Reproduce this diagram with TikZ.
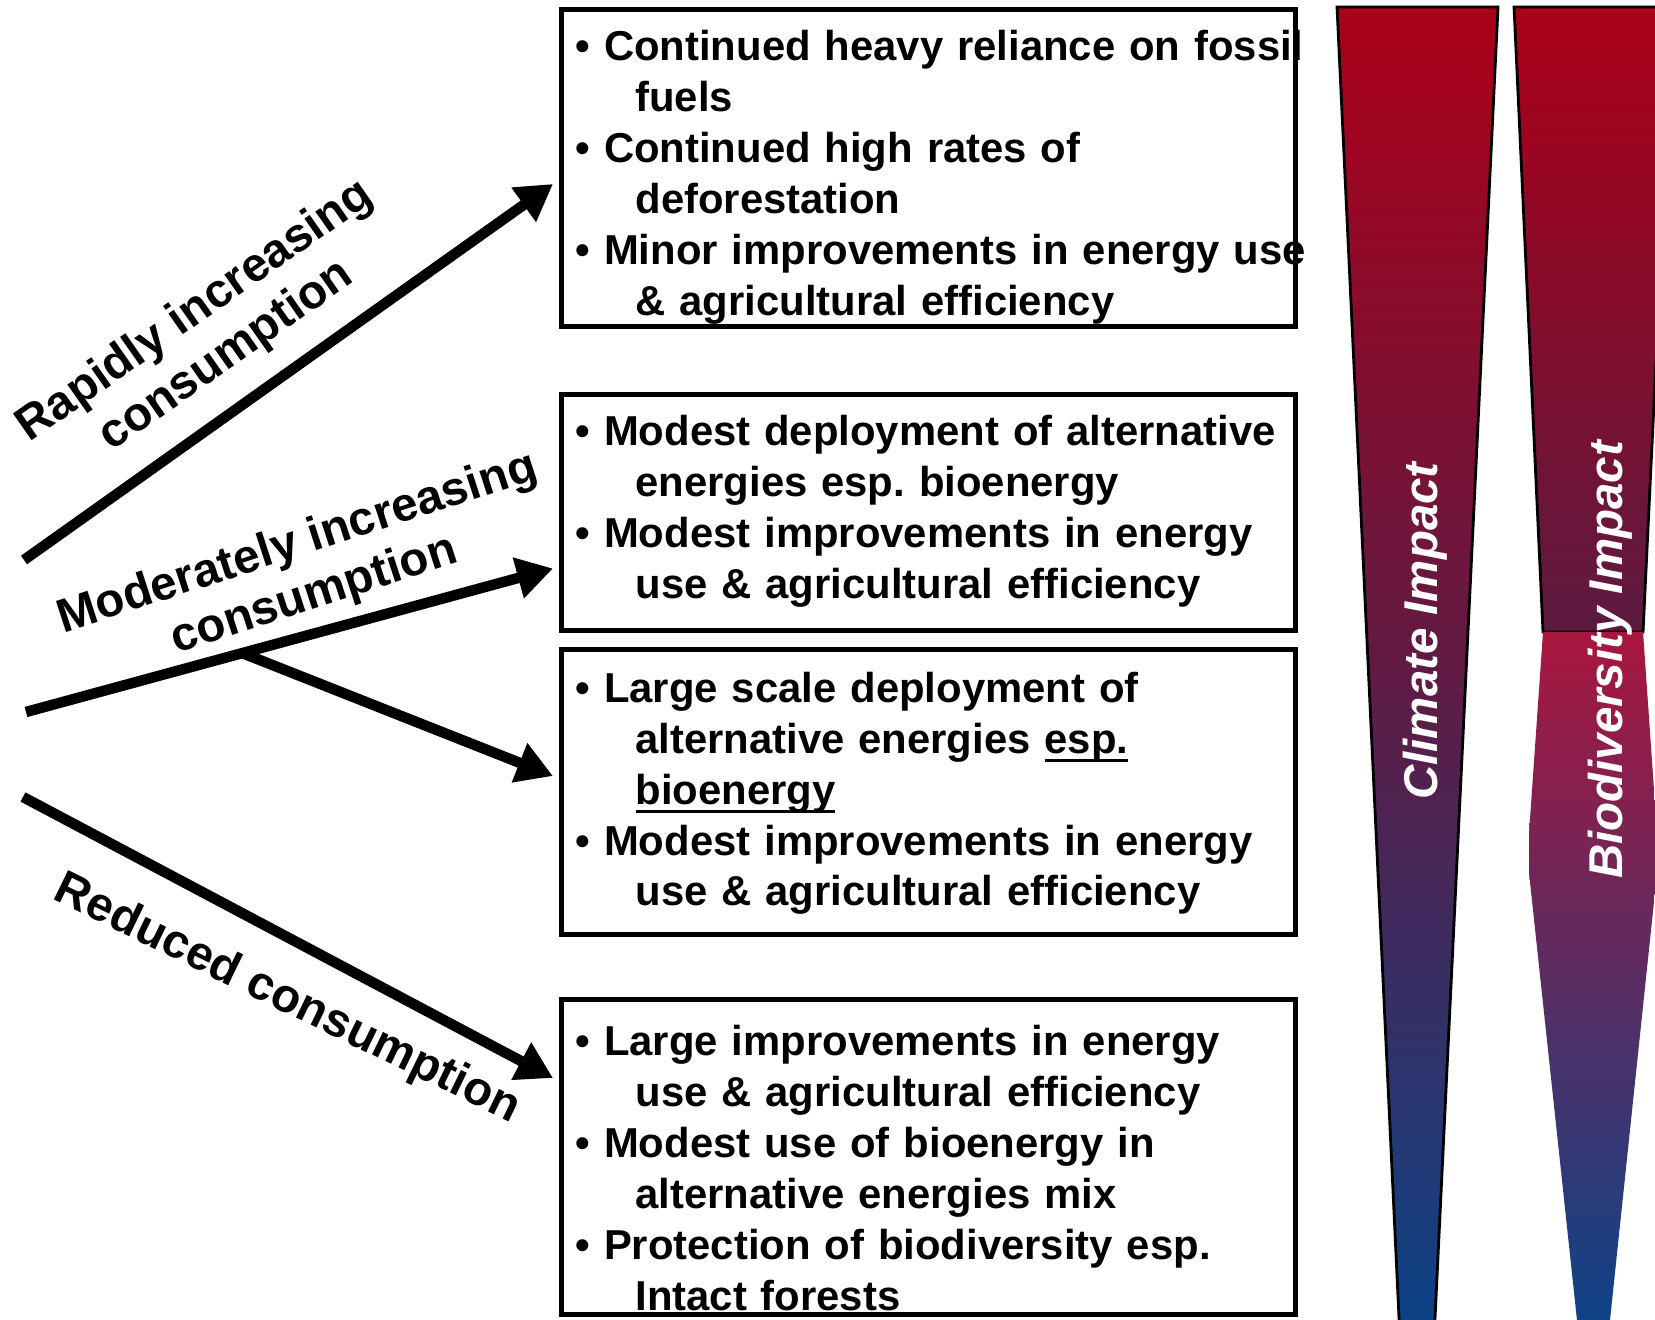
\documentclass[tikz,border=0pt]{standalone}
\usepackage{fontspec}
\setmainfont{Liberation Sans}
\usetikzlibrary{positioning,arrows.meta,calc}
\frenchspacing

\definecolor{impred}{RGB}{172,0,24}
\definecolor{impmid}{RGB}{96,27,68}
\definecolor{impblue}{RGB}{10,68,136}
\definecolor{bioupper}{RGB}{92,26,64}
\definecolor{biocrimson}{RGB}{168,22,62}

% bullet line and its indented continuation
\newcommand{\pnt}[1]{\mbox{\textbullet{} #1}}
\newcommand{\nxt}[1]{\mbox{\hspace*{0.6cm}#1}}
\newcommand{\undl}[1]{\setbox0\hbox{#1}\rlap{\rule[-0.09cm]{\wd0}{0.03cm}}\box0}
% struts to nudge the text block inside a box
\newcommand{\topgap}[1]{\rule{0pt}{#1}}
\newcommand{\botgap}[1]{\rule[-#1]{0pt}{#1}}

\tikzset{
  optbox/.style={draw, line width=0.05cm, rectangle, anchor=north west,
    minimum width=7.34cm, text width=7.06cm, inner xsep=0.14cm, inner ysep=0pt,
    align=left, font=\fontsize{11.9}{14.5}\selectfont\bfseries},
  bigarrow/.style={line width=0.105cm, -{Triangle[length=0.36cm, width=0.4cm]}},
  pathlabel/.style={align=center, font=\fontsize{13.5}{15.5}\selectfont\bfseries},
  barlabel/.style={rotate=90, anchor=base, text=white,
    font=\fontsize{13.5}{15.5}\selectfont\bfseries\itshape},
}

\begin{document}
\begin{tikzpicture}
\fill[white] (0,0) rectangle (16.55,13.19);
\useasboundingbox (0,0) rectangle (16.55,13.19);
\clip (0,0) rectangle (16.55,13.19);

% impact wedges
\shadedraw[draw=black, line width=0.8pt, top color=impred, bottom color=impblue, middle color=impmid]
  (13.37,13.12) -- (14.98,13.12) -- (14.34,-0.2) -- (14.00,-0.2) -- cycle;
\shadedraw[draw=black, line width=0.8pt, top color=impred, bottom color=bioupper]
  (15.14,13.12) -- (16.73,13.12) -- (16.43,6.87) -- (15.43,6.87) -- cycle;
\shade[top color=biocrimson, bottom color=impblue]
  (15.43,6.87) -- (15.29,4.86) -- (15.29,4.46) -- (15.79,-0.2) -- (16.08,-0.2)
  -- (16.57,4.46) -- (16.57,4.86) -- (16.43,6.87) -- cycle;

\node[barlabel] (climate) at (14.37,6.88) {Climate Impact};
\node[barlabel] (biodiv) at (16.22,6.59) {Biodiversity Impact};

% outcome boxes
\node[optbox, minimum height=3.17cm] (fossil) at (5.59,13.12) {%
  \topgap{0.49cm}\pnt{Continued heavy reliance on fossil}\\
  \nxt{fuels}\\
  \pnt{Continued high rates of}\\
  \nxt{deforestation}\\
  \pnt{Minor improvements in energy use}\\
  \nxt{\& agricultural efficiency}};
\node[optbox, minimum height=2.36cm] (modest) at (5.59,9.27) {%
  \pnt{Modest deployment of alternative}\\
  \nxt{energies esp. bioenergy}\\
  \pnt{Modest improvements in energy}\\
  \nxt{use \& agricultural efficiency}\botgap{0.12cm}};
\node[optbox, minimum height=2.85cm] (largescale) at (5.59,6.72) {%
  \topgap{0.33cm}\pnt{Large scale deployment of}\\
  \nxt{alternative energies \undl{esp.}}\\
  \nxt{\undl{bioenergy}}\\
  \pnt{Modest improvements in energy}\\
  \nxt{use \& agricultural efficiency}};
\node[optbox, minimum height=3.15cm] (efficient) at (5.59,3.22) {%
  \topgap{0.52cm}\pnt{Large improvements in energy}\\
  \nxt{use \& agricultural efficiency}\\
  \pnt{Modest use of bioenergy in}\\
  \nxt{alternative energies mix}\\
  \pnt{Protection of biodiversity esp.}\\
  \nxt{Intact forests}};

% consumption paths
\coordinate (rapid) at (0.24,7.59);
\coordinate (moder) at (0.26,6.07);
\coordinate (fork) at (2.42,6.66);
\coordinate (reduc) at (0.23,5.22);

\draw[bigarrow] (rapid) -- ([xshift=-0.06cm, yshift=-0.16cm]fossil.west);
\draw[bigarrow] (moder) -- ([xshift=-0.06cm, yshift=-0.56cm]modest.west);
\draw[bigarrow] (fork) -- ([xshift=-0.06cm, yshift=0.16cm]largescale.west);
\draw[bigarrow] (reduc) -- ([xshift=-0.06cm, yshift=0.79cm]efficient.west);

\node[pathlabel, rotate=35] (rapidlbl) at (2.11,9.85) {Rapidly increasing\\consumption};
\node[pathlabel, rotate=18] (moderlbl) at (3.06,7.49) {Moderately increasing\\consumption};
\node[pathlabel, rotate=-26] (reduclbl) at (2.87,3.19) {Reduced consumption};
\end{tikzpicture}
\end{document}
